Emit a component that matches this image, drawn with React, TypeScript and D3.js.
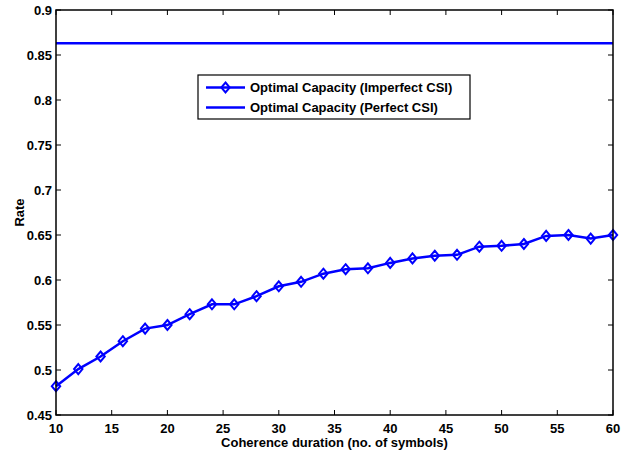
import { useEffect, useRef } from "react";
import * as d3 from "d3";

const coherence = [10, 12, 14, 16, 18, 20, 22, 24, 26, 28, 30, 32, 34, 36, 38, 40, 42, 44, 46, 48, 50, 52, 54, 56, 58, 60];
const imperfectRate = [0.482, 0.501, 0.515, 0.532, 0.546, 0.55, 0.562, 0.573, 0.573, 0.582, 0.593, 0.598, 0.607, 0.612, 0.613, 0.619, 0.624, 0.627, 0.628, 0.637, 0.638, 0.64, 0.649, 0.65, 0.646, 0.65];
const perfectRate = 0.863;
const xTicks = [10, 15, 20, 25, 30, 35, 40, 45, 50, 55, 60];
const yTicks = [0.45, 0.5, 0.55, 0.6, 0.65, 0.7, 0.75, 0.8, 0.85, 0.9];
const legendLabels = ["Optimal Capacity (Imperfect CSI)", "Optimal Capacity (Perfect CSI)"];

export default function App() {
  const svgRef = useRef<SVGSVGElement>(null);

  useEffect(() => {
    if (!svgRef.current) return;
    const width = 622;
    const height = 451;
    const margin = { top: 10, right: 9, bottom: 36, left: 56 };
    const font = "'Liberation Sans', Arial, sans-serif";
    const fs = 13;
    const blue = "#0000ff";

    const svg = d3.select(svgRef.current);
    svg.selectAll("*").remove();

    const x = d3.scaleLinear().domain([10, 60]).range([margin.left, width - margin.right]);
    const y = d3.scaleLinear().domain([0.45, 0.9]).range([height - margin.bottom, margin.top]);

    const x0 = margin.left, x1 = width - margin.right;
    const y0 = height - margin.bottom, y1 = margin.top;
    const tl = 5;

    // ticks on all four sides, pointing inward
    const ticks = svg.append("g").attr("stroke", "#000").attr("stroke-width", 1);
    xTicks.forEach(t => {
      ticks.append("line").attr("x1", x(t)).attr("x2", x(t)).attr("y1", y0).attr("y2", y0 - tl);
      ticks.append("line").attr("x1", x(t)).attr("x2", x(t)).attr("y1", y1).attr("y2", y1 + tl);
    });
    yTicks.forEach(t => {
      ticks.append("line").attr("x1", x0).attr("x2", x0 + tl).attr("y1", y(t)).attr("y2", y(t));
      ticks.append("line").attr("x1", x1).attr("x2", x1 - tl).attr("y1", y(t)).attr("y2", y(t));
    });

    // tick labels
    svg.append("g")
      .selectAll("text")
      .data(xTicks)
      .join("text")
      .attr("x", d => x(d))
      .attr("y", y0 + 18)
      .attr("text-anchor", "middle")
      .attr("font-family", font)
      .attr("font-weight", "bold")
      .attr("font-size", fs)
      .text(d => d3.format("d")(d));

    svg.append("g")
      .selectAll("text")
      .data(yTicks)
      .join("text")
      .attr("x", x0 - 4)
      .attr("y", d => y(d) + 5)
      .attr("text-anchor", "end")
      .attr("font-family", font)
      .attr("font-weight", "bold")
      .attr("font-size", fs)
      .text(d => String(+d.toFixed(2)));

    // perfect CSI line
    svg.append("line")
      .attr("x1", x0).attr("x2", x1)
      .attr("y1", y(perfectRate)).attr("y2", y(perfectRate))
      .attr("stroke", blue).attr("stroke-width", 2.5);

    // imperfect CSI curve
    const pts = coherence.map((c, i) => [c, imperfectRate[i]] as [number, number]);
    const line = d3.line<[number, number]>().x(d => x(d[0])).y(d => y(d[1]));
    svg.append("path")
      .datum(pts)
      .attr("d", line)
      .attr("fill", "none")
      .attr("stroke", blue)
      .attr("stroke-width", 2.5);

    const diamond = (cx: number, cy: number) => `M${cx},${cy - 5}L${cx + 4.2},${cy}L${cx},${cy + 5}L${cx - 4.2},${cy}Z`;
    svg.append("g")
      .selectAll("path")
      .data(pts)
      .join("path")
      .attr("d", d => diamond(x(d[0]), y(d[1])))
      .attr("fill", "none")
      .attr("stroke", blue)
      .attr("stroke-width", 2);

    // axes box
    svg.append("rect")
      .attr("x", x0).attr("y", y1)
      .attr("width", x1 - x0).attr("height", y0 - y1)
      .attr("fill", "none").attr("stroke", "#000").attr("stroke-width", 1.5);

    // legend
    const lg = svg.append("g");
    lg.append("rect")
      .attr("x", 198).attr("y", 75).attr("width", 272).attr("height", 44)
      .attr("fill", "#fff").attr("stroke", "#000").attr("stroke-width", 1.2);
    legendLabels.forEach((lab, i) => {
      const ly = 87.5 + i * 20;
      lg.append("line").attr("x1", 206).attr("x2", 245).attr("y1", ly).attr("y2", ly)
        .attr("stroke", blue).attr("stroke-width", 2.5);
      if (i === 0) {
        lg.append("path").attr("d", diamond(225.5, ly)).attr("fill", "none")
          .attr("stroke", blue).attr("stroke-width", 2);
      }
      lg.append("text").attr("x", 250).attr("y", ly + 4.5)
        .attr("font-family", font).attr("font-weight", "bold").attr("font-size", fs)
        .text(lab);
    });

    // axis titles
    svg.append("text")
      .attr("x", (x0 + x1) / 2).attr("y", 447)
      .attr("text-anchor", "middle")
      .attr("font-family", font).attr("font-weight", "bold").attr("font-size", fs)
      .text("Coherence duration (no. of symbols)");

    svg.append("text")
      .attr("transform", `translate(24,${(y0 + y1) / 2}) rotate(-90)`)
      .attr("text-anchor", "middle")
      .attr("font-family", font).attr("font-weight", "bold").attr("font-size", fs)
      .text("Rate");
  }, []);

  return (
    <svg ref={svgRef} width={622} height={451}
      style={{ position: "absolute", left: 0, top: 0, background: "#fff" }} />
  );
}
